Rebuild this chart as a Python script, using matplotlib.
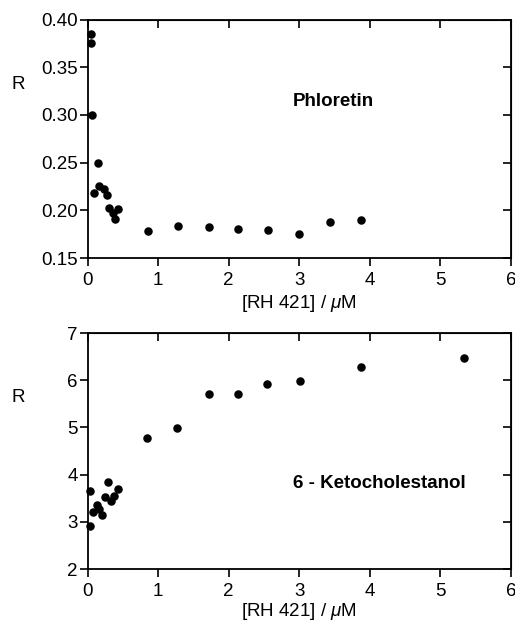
import matplotlib.pyplot as plt

plt.rcParams['font.family'] = ['Liberation Sans', 'DejaVu Sans']
plt.rcParams['mathtext.fontset'] = 'custom'
plt.rcParams['mathtext.it'] = 'Liberation Sans:italic'

# phloretin series
phl_x = [0.05, 0.05, 0.06, 0.146, 0.094, 0.165, 0.23, 0.27, 0.31, 0.355, 0.39, 0.43,
         0.86, 1.28, 1.72, 2.13, 2.56, 3.00, 3.44, 3.88]
phl_r = [0.385, 0.375, 0.300, 0.250, 0.2185, 0.225, 0.222, 0.2157, 0.202, 0.1975, 0.191, 0.2017,
         0.178, 0.1836, 0.1825, 0.1804, 0.1797, 0.1748, 0.188, 0.1899]

# 6-ketocholestanol series
keto_x = [0.03, 0.03, 0.075, 0.127, 0.165, 0.21, 0.245, 0.29, 0.33, 0.38, 0.43,
          0.84, 1.27, 1.72, 2.13, 2.54, 3.01, 3.87, 5.34]
keto_r = [3.65, 2.91, 3.21, 3.36, 3.27, 3.14, 3.53, 3.85, 3.45, 3.55, 3.69,
          4.78, 4.99, 5.71, 5.70, 5.93, 5.99, 6.29, 6.48]

x_ticks = [0, 1, 2, 3, 4, 5, 6]
phl_ticks = [0.15, 0.20, 0.25, 0.30, 0.35, 0.40]
keto_ticks = [2, 3, 4, 5, 6, 7]

FS = 13.5

fig = plt.figure(figsize=(5.15, 6.21), dpi=100)
ax1 = fig.add_axes([0.170, 0.5845, 0.822, 0.384])
ax2 = fig.add_axes([0.170, 0.0837, 0.822, 0.380])


def style(ax, yticks, yfmt, xpad):
    ax.set_xlim(0, 6)
    ax.set_ylim(yticks[0], yticks[-1])
    ax.set_xticks(x_ticks)
    ax.set_yticks(yticks)
    ax.set_yticklabels([yfmt.format(v) for v in yticks])
    ax.tick_params(direction='out', length=6, width=1.2, labelsize=FS)
    ax.tick_params(axis='x', pad=4)
    ax.tick_params(axis='y', pad=1)
    for s in ax.spines.values():
        s.set_linewidth(1.3)
    # inward mirror ticks on top and right
    top = ax.secondary_xaxis('top')
    top.set_xticks(x_ticks)
    top.tick_params(direction='in', length=6, width=1.2, labeltop=False)
    right = ax.secondary_yaxis('right')
    right.set_yticks(yticks)
    right.tick_params(direction='in', length=6, width=1.2, labelright=False)
    ax.set_xlabel(r'[RH 421] / $\mathit{\mu}$M', fontsize=FS, labelpad=xpad)
    ax.set_ylabel('R', rotation=0, fontsize=FS, va='center', ha='center')
    ax.yaxis.set_label_coords(-0.164, 0.727)


ax1.scatter(phl_x, phl_r, s=26, color='black', zorder=3, clip_on=False)
style(ax1, phl_ticks, '{:.2f}', 3)
ax1.text(3.48, 0.314, 'Phloretin', fontsize=FS, fontweight='bold', ha='center', va='center')

ax2.scatter(keto_x, keto_r, s=26, color='black', zorder=3, clip_on=False)
style(ax2, keto_ticks, '{:.0f}', 0.5)
ax2.text(4.13, 3.82, '6 - Ketocholestanol', fontsize=FS, fontweight='bold', ha='center', va='center')

fig.savefig('out.png', dpi=100)
